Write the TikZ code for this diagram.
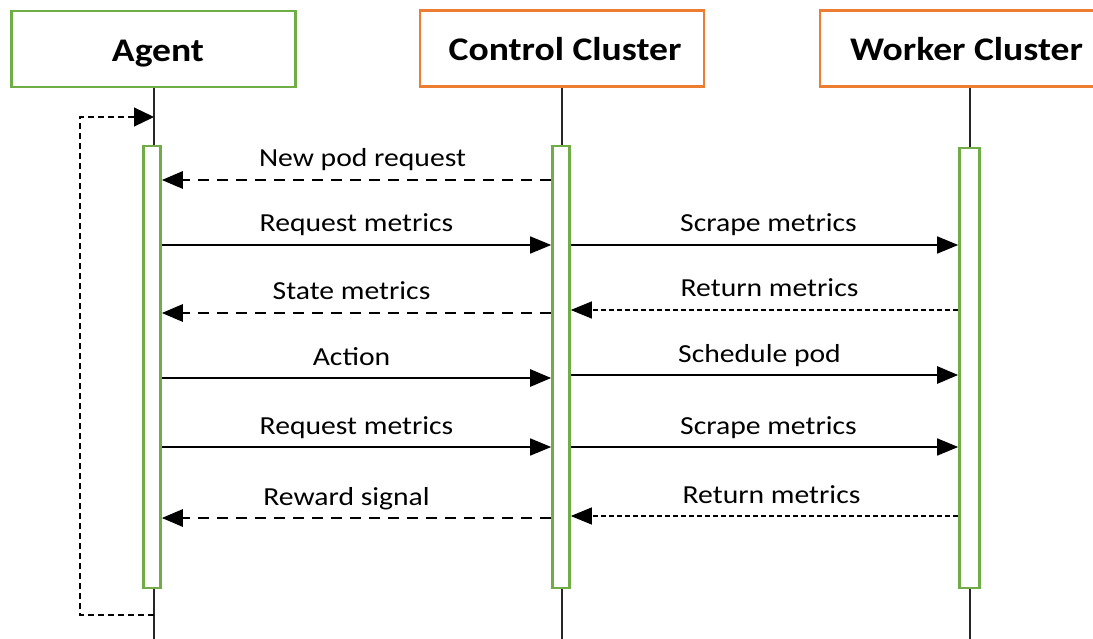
\documentclass[tikz,border=0pt]{standalone}
\usepackage{fontspec}
\setmainfont[FakeStretch=1.14]{Carlito}
\usetikzlibrary{arrows.meta}
\definecolor{agreen}{HTML}{70AD47}
\definecolor{aorange}{HTML}{ED7D31}
\newcommand{\headstrut}{\rule[-7pt]{0pt}{39pt}}
\begin{document}
\begin{tikzpicture}[x=1pt,y=-1pt,
  head/.style={draw, line width=2.8pt, fill=white, minimum width=284pt, minimum height=76pt, inner sep=0pt,
    font=\fontsize{33}{38}\selectfont\bfseries},
  actbar/.style={draw=agreen, line width=2.6pt, fill=white, minimum width=17pt, minimum height=442pt, inner sep=0pt},
  lifeline/.style={line width=1.2pt, black!85},
  msg/.style={-{Triangle[length=21pt,width=17pt]}},
  call/.style={msg, line width=1.4pt},
  strong/.style={msg, line width=2.6pt},
  reply/.style={msg, line width=2.9pt, dash pattern=on 11pt off 8pt},
  ret/.style={msg, line width=1.1pt, dash pattern=on 5pt off 3pt},
  selfloop/.style={line width=1.2pt, dash pattern=on 6pt off 4pt, -{Triangle[length=20pt,width=19pt]}},
  lbl/.style={font=\fontsize{26}{30}\selectfont, anchor=base, yshift=13pt, inner sep=0pt}
]
\useasboundingbox (0,0) rectangle (1093,639);

% header boxes
\node[head, draw=agreen] (agent) at (153.5,49) {\hspace*{9pt}Agent\headstrut};
\node[head, draw=aorange] (control) at (562,48.5) {\hspace*{6pt}Control Cluster\headstrut};
\node[head, draw=aorange, minimum width=300pt] (worker) at (970,48.5) {Worker Cluster\hspace*{7pt}\headstrut};

% lifeline ends
\coordinate (agentEnd) at (154,639);
\coordinate (controlEnd) at (562,639);
\coordinate (workerEnd) at (970,639);
\draw[lifeline] (agent.south -| agentEnd) -- (agentEnd);
\draw[lifeline] (control.south -| controlEnd) -- (controlEnd);
\draw[lifeline] (worker.south -| workerEnd) -- (workerEnd);

% activation bars
\node[actbar] (abar) at (152,367) {};
\node[actbar] (cbar) at (561,367) {};
\node[actbar, minimum width=20pt, minimum height=440pt] (wbar) at (969.5,368) {};

% self loop on agent
\coordinate (loopS) at (154,615);
\coordinate (loopL) at (80,615);
\coordinate (loopE) at (154,117);
\draw[selfloop] (loopS) -- (loopL) |- (loopE);

% messages
\draw[reply] (cbar.west |- 0,180) -- node[lbl, xshift=6pt]{New pod request} (abar.east |- 0,180);
\draw[call] (abar.east |- 0,245) -- node[lbl]{Request metrics} (cbar.west |- 0,245);
\draw[call] (cbar.east |- 0,245) -- node[lbl, xshift=4pt]{Scrape metrics} (wbar.west |- 0,245);
\draw[reply] (cbar.west |- 0,313) -- node[lbl, xshift=-5pt]{State metrics} (abar.east |- 0,313);
\draw[ret] (wbar.west |- 0,310) -- node[lbl, xshift=5pt]{Return metrics} (cbar.east |- 0,310);
\draw[strong] (abar.east |- 0,378) -- node[lbl, xshift=-5pt]{Action} (cbar.west |- 0,378);
\draw[strong] (cbar.east |- 0,375) -- node[lbl, xshift=-5pt]{Schedule pod} (wbar.west |- 0,375);
\draw[call] (abar.east |- 0,447) -- node[lbl]{Request metrics} (cbar.west |- 0,447);
\draw[call] (cbar.east |- 0,447) -- node[lbl, xshift=4pt]{Scrape metrics} (wbar.west |- 0,447);
\draw[reply] (cbar.west |- 0,518) -- node[lbl, xshift=-10pt]{Reward signal} (abar.east |- 0,518);
\draw[ret] (wbar.west |- 0,516) -- node[lbl, xshift=7pt]{Return metrics} (cbar.east |- 0,516);
\end{tikzpicture}
\end{document}
